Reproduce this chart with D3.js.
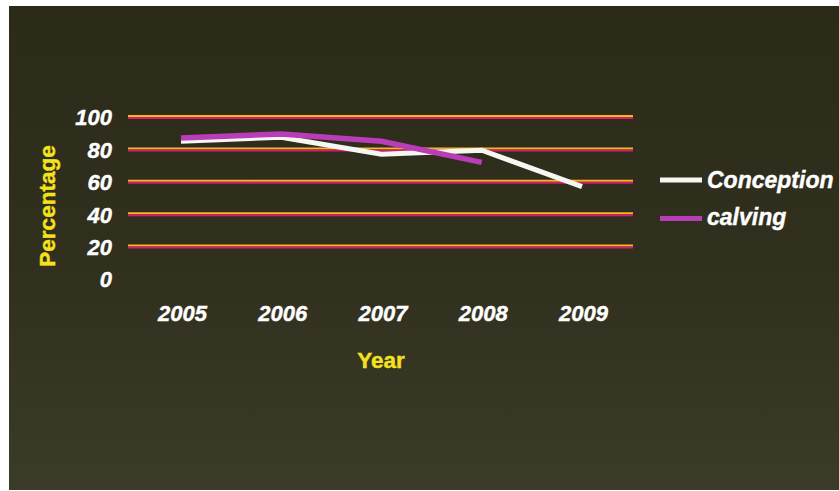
<!DOCTYPE html>
<html>
<head>
<meta charset="utf-8">
<script src="https://cdn.jsdelivr.net/npm/d3@7"></script>
<style>
  html, body { margin: 0; padding: 0; background: #ffffff; }
  svg { display: block; }
  text { font-family: "Liberation Sans", Arial, sans-serif; font-weight: bold; }
</style>
</head>
<body>
<svg id="chart" width="839" height="491"></svg>
<script>
// Chart data
const years = ["2005", "2006", "2007", "2008", "2009"];
const conception = [85, 87.5, 77, 79.5, 57];
const calving = [87, 89.5, 85, 72];
const yTicks = [0, 20, 40, 60, 80, 100];
const seriesNames = ["Conception", "calving"];
const seriesColors = ["#f6f6f2", "#b93cb8"];

const svg = d3.select("#chart");
const W = 839, H = 491;

// Dark olive panel background
const defs = svg.append("defs");
const grad = defs.append("linearGradient")
  .attr("id", "bg").attr("x1", 0).attr("y1", 0).attr("x2", 0).attr("y2", 1);
grad.append("stop").attr("offset", "0%").attr("stop-color", "#2c2b1a");
grad.append("stop").attr("offset", "55%").attr("stop-color", "#31301e");
grad.append("stop").attr("offset", "100%").attr("stop-color", "#3b3b29");
svg.append("rect")
  .attr("x", 9).attr("y", 6).attr("width", W - 9).attr("height", H - 7)
  .attr("fill", "url(#bg)");

// Scales
const x = d3.scalePoint().domain(years).range([181, 582]);
const y = d3.scaleLinear().domain([0, 100]).range([279, 117]);
const gridX0 = 128, gridX1 = 633;

// Gridlines: yellow over crimson double rule
const grid = svg.append("g");
yTicks.filter(v => v > 0).forEach(v => {
  grid.append("line")
    .attr("x1", gridX0).attr("x2", gridX1)
    .attr("y1", y(v) - 1).attr("y2", y(v) - 1)
    .attr("stroke", "#f4b81e").attr("stroke-width", 2);
  grid.append("line")
    .attr("x1", gridX0).attr("x2", gridX1)
    .attr("y1", y(v) + 1).attr("y2", y(v) + 1)
    .attr("stroke", "#d21c6c").attr("stroke-width", 2);
});

// Shared styling for the white italic labels
function whiteLabel(sel, size) {
  sel.attr("fill", "#ffffff")
    .attr("stroke", "#ffffff")
    .attr("stroke-width", 0.4)
    .attr("font-size", size)
    .attr("font-style", "italic")
    .attr("font-family", "Liberation Sans, Arial, sans-serif")
    .attr("font-weight", "bold");
}

// Y axis tick labels
const yAxis = d3.axisLeft(y).tickValues(yTicks).tickSize(0).tickPadding(0);
const yg = svg.append("g").attr("transform", "translate(112,0)").call(yAxis);
yg.select(".domain").remove();
yg.selectAll("text").call(whiteLabel, 22).attr("dy", "0.36em");

// X axis tick labels
const xAxis = d3.axisBottom(x).tickSize(0).tickPadding(0);
const xg = svg.append("g").attr("transform", "translate(1,305)").call(xAxis);
xg.select(".domain").remove();
xg.selectAll("text").call(whiteLabel, 22).attr("dy", "0.72em");

// Axis titles
svg.append("text")
  .attr("transform", "translate(55,206) rotate(-90)")
  .attr("text-anchor", "middle")
  .attr("fill", "#f5e21c")
  .attr("stroke", "#f5e21c").attr("stroke-width", 0.4)
  .attr("font-size", 22.5)
  .text("Percentage");
svg.append("text")
  .attr("x", 381).attr("y", 368)
  .attr("text-anchor", "middle")
  .attr("fill", "#f5e21c")
  .attr("stroke", "#f5e21c").attr("stroke-width", 0.4)
  .attr("font-size", 22.5)
  .text("Year");

// Series lines
const line = d3.line()
  .x((d, i) => x(years[i]))
  .y(d => y(d));

svg.append("path")
  .datum(conception)
  .attr("d", line)
  .attr("fill", "none")
  .attr("stroke", seriesColors[0])
  .attr("stroke-width", 5)
  .attr("stroke-linejoin", "miter");

svg.append("path")
  .datum(calving)
  .attr("d", line)
  .attr("fill", "none")
  .attr("stroke", seriesColors[1])
  .attr("stroke-width", 5.5)
  .attr("stroke-linejoin", "miter");

// Legend
const legend = svg.append("g");
const legendY = [180, 218.5];
seriesNames.forEach((name, i) => {
  legend.append("line")
    .attr("x1", 660).attr("x2", 702)
    .attr("y1", legendY[i]).attr("y2", legendY[i])
    .attr("stroke", seriesColors[i])
    .attr("stroke-width", 5);
  legend.append("text")
    .attr("x", 707).attr("y", legendY[i])
    .attr("dy", i === 0 ? "0.36em" : "0.3em")
    .call(whiteLabel, 23)
    .text(name);
});
</script>
</body>
</html>
